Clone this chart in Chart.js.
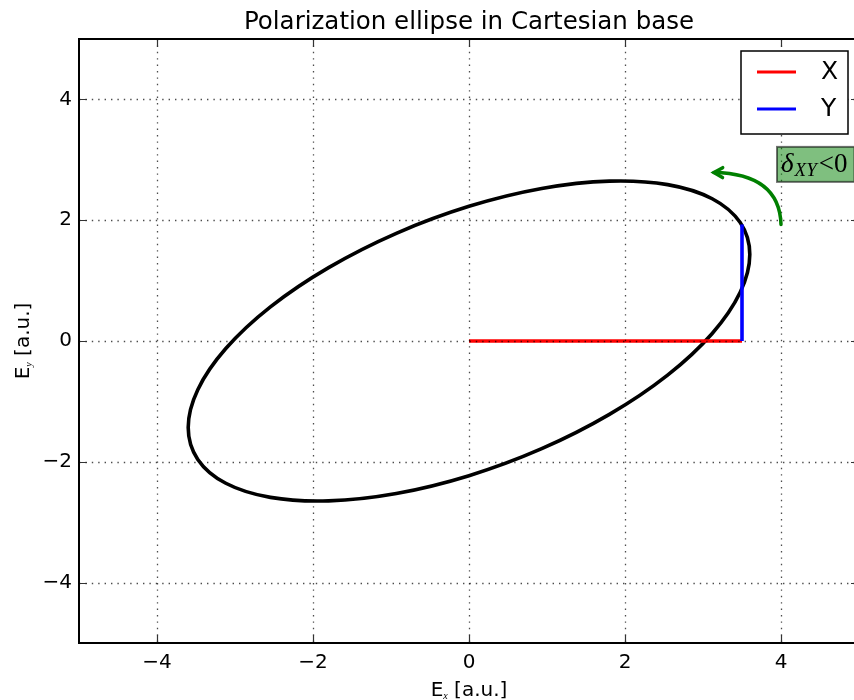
<!DOCTYPE html>
<html>
<head>
<meta charset="utf-8">
<script src="https://cdn.jsdelivr.net/npm/chart.js@4.4.0/dist/chart.umd.min.js"></script>
<style>
  html, body { margin: 0; padding: 0; background: #fff; overflow: hidden; width: 854px; height: 700px; }
  #wrap { width: 880px; height: 700px; }
  canvas { display: block; }
</style>
</head>
<body>
<div id="wrap"><canvas id="chart" width="880" height="700" style="width:880px;height:700px"></canvas></div>
<script>
// Field vector tip (Ex, Ey) over one period, every 15°, with one extra sample at each end
const ellipseEx = [3.477, 3.600, 3.477, 3.118, 2.546, 1.800, 0.932, 0.000, -0.932, -1.800, -2.546, -3.118, -3.477,
                   -3.600, -3.477, -3.118, -2.546, -1.800, -0.932, 0.000, 0.932, 1.800, 2.546, 3.118, 3.477, 3.600, 3.477];
const ellipseEy = [1.960, 1.432, 0.806, 0.125, -0.565, -1.215, -1.783, -2.230, -2.525, -2.647, -2.589, -2.355, -1.960,
                   -1.432, -0.806, -0.125, 0.565, 1.215, 1.783, 2.230, 2.525, 2.647, 2.589, 2.355, 1.960, 1.432, 0.806];

// Components of the field at the drawn instant
const componentXEx = [0, 3.5];
const componentXEy = [0, 0];
const componentYEx = [3.5, 3.5];
const componentYEy = [0, 1.93];

const seriesLabels = ['X', 'Y'];
const seriesColors = ['#ff0000', '#0000ff'];

const xLimits = [-5, 5];
const yLimits = [-5, 5];
const xTickValues = [-4, -2, 0, 2, 4];
const yTickValues = [-4, -2, 0, 2, 4];

// Rotation-sense marker (data coordinates)
const arrowTail = [4.0, 1.93];
const arrowBend = [3.98, 2.77];
const arrowHead = [3.14, 2.79];
const phaseNoteAt = [4.0, 2.8];

const titleText = 'Polarization ellipse in Cartesian base';

const pts = (xs, ys) => xs.map((v, i) => ({ x: v, y: ys[i] }));
const minusFmt = v => (v < 0 ? '\u2212' + (-v) : String(v));
const SANS = '"DejaVu Sans", sans-serif';
const SERIF = '"Liberation Serif", "DejaVu Serif", serif';

// Draws "E" + tiny italic subscript + " [a.u.]" centred on (0,0) of the current transform
function drawSubLabel(ctx, sub) {
  const main = '20px ' + SANS, small = 'italic 10px ' + SERIF;
  ctx.font = main; const wE = ctx.measureText('E').width; const wR = ctx.measureText(' [a.u.]').width;
  ctx.font = small; const wS = ctx.measureText(sub).width;
  let x = -(wE + wS + wR) / 2;
  ctx.textBaseline = 'alphabetic'; ctx.textAlign = 'left'; ctx.fillStyle = '#000';
  ctx.font = main; ctx.fillText('E', x, 0); x += wE;
  ctx.font = small; ctx.fillText(sub, x, 3); x += wS;
  ctx.font = main; ctx.fillText(' [a.u.]', x, 0);
}

const decor = {
  id: 'decor',
  afterDatasetsDraw(chart) {
    const { ctx, chartArea: a, scales: { x, y } } = chart;
    ctx.save();

    // dotted grid over the curves
    ctx.strokeStyle = 'rgba(0,0,0,0.7)';
    ctx.lineWidth = 1.3;
    ctx.setLineDash([1.4, 5]);
    xTickValues.forEach(v => {
      const px = Math.round(x.getPixelForValue(v)) + 0.5;
      ctx.beginPath(); ctx.moveTo(px, a.top); ctx.lineTo(px, a.bottom); ctx.stroke();
    });
    yTickValues.forEach(v => {
      const py = Math.round(y.getPixelForValue(v)) + 0.5;
      ctx.beginPath(); ctx.moveTo(a.left, py); ctx.lineTo(a.right, py); ctx.stroke();
    });
    ctx.setLineDash([]);

    // inward ticks on all four sides
    ctx.strokeStyle = '#333';
    ctx.lineWidth = 1.2;
    const tl = 8;
    xTickValues.forEach(v => {
      const px = Math.round(x.getPixelForValue(v)) + 0.5;
      ctx.beginPath();
      ctx.moveTo(px, a.bottom); ctx.lineTo(px, a.bottom - tl);
      ctx.moveTo(px, a.top); ctx.lineTo(px, a.top + tl);
      ctx.stroke();
    });
    yTickValues.forEach(v => {
      const py = Math.round(y.getPixelForValue(v)) + 0.5;
      ctx.beginPath();
      ctx.moveTo(a.left, py); ctx.lineTo(a.left + tl, py);
      ctx.moveTo(a.right, py); ctx.lineTo(a.right - tl, py);
      ctx.stroke();
    });

    // axes frame
    ctx.strokeStyle = '#000';
    ctx.lineWidth = 2;
    ctx.strokeRect(a.left, a.top, a.right - a.left, a.bottom - a.top);

    // phase note box
    const nx = x.getPixelForValue(phaseNoteAt[0]);
    const ny = y.getPixelForValue(phaseNoteAt[1]);
    const fMain = 'italic 27px ' + SERIF, fSub = 'italic 19px ' + SERIF, fUp = '27px ' + SERIF;
    ctx.font = fMain; const wD = ctx.measureText('\u03b4').width;
    ctx.font = fSub; const wXY = ctx.measureText('XY').width;
    ctx.font = fUp; const wLt = ctx.measureText('<0').width;
    const tw = wD + 1 + wXY + 2 + wLt;
    ctx.fillStyle = 'rgba(0,128,0,0.5)';
    ctx.strokeStyle = 'rgba(0,0,0,0.55)';
    ctx.lineWidth = 2;
    const bx = nx - 4, by = ny - 25, bw = tw + 11, bh = 35;
    ctx.fillRect(bx, by, bw, bh);
    ctx.strokeRect(bx, by, bw, bh);
    ctx.fillStyle = '#000';
    ctx.textBaseline = 'alphabetic'; ctx.textAlign = 'left';
    let tx = nx;
    ctx.font = fMain; ctx.fillText('\u03b4', tx, ny); tx += wD + 1;
    ctx.font = fSub; ctx.fillText('XY', tx, ny + 4.5); tx += wXY + 2;
    ctx.font = fUp; ctx.fillText('<0', tx, ny);

    // curved rotation arrow
    const t0 = [x.getPixelForValue(arrowTail[0]), y.getPixelForValue(arrowTail[1])];
    const c0 = [x.getPixelForValue(arrowBend[0]), y.getPixelForValue(arrowBend[1])];
    const h0 = [x.getPixelForValue(arrowHead[0]), y.getPixelForValue(arrowHead[1])];
    ctx.strokeStyle = '#008000';
    ctx.lineWidth = 3.5;
    ctx.lineCap = 'round';
    ctx.beginPath();
    ctx.moveTo(t0[0], t0[1]);
    ctx.quadraticCurveTo(c0[0], c0[1], h0[0], h0[1]);
    ctx.stroke();
    const ang = Math.atan2(h0[1] - c0[1], h0[0] - c0[0]);
    const hl = 10, spread = 0.52;
    ctx.beginPath();
    ctx.moveTo(h0[0] - hl * Math.cos(ang - spread), h0[1] - hl * Math.sin(ang - spread));
    ctx.lineTo(h0[0], h0[1]);
    ctx.lineTo(h0[0] - hl * Math.cos(ang + spread), h0[1] - hl * Math.sin(ang + spread));
    ctx.stroke();
    ctx.lineCap = 'butt';

    // legend
    const lw = 107, lh = 83;
    const lx = a.right - 11 - lw, ly = a.top + 12;
    ctx.fillStyle = '#fff';
    ctx.fillRect(lx, ly, lw, lh);
    ctx.strokeStyle = '#000';
    ctx.lineWidth = 1.5;
    ctx.strokeRect(lx, ly, lw, lh);
    const rows = [ly + 21, ly + 58];
    seriesLabels.forEach((lab, i) => {
      ctx.strokeStyle = seriesColors[i];
      ctx.lineWidth = 3;
      ctx.beginPath(); ctx.moveTo(lx + 16, rows[i]); ctx.lineTo(lx + 55, rows[i]); ctx.stroke();
      ctx.fillStyle = '#000';
      ctx.font = '25px ' + SANS;
      ctx.textBaseline = 'middle';
      ctx.fillText(lab, lx + 80, rows[i]);
    });

    // title and axis labels
    ctx.textBaseline = 'alphabetic';
    ctx.textAlign = 'center';
    ctx.fillStyle = '#000';
    ctx.font = '24.5px ' + SANS;
    ctx.fillText(titleText, (a.left + a.right) / 2, 28.5);

    ctx.save();
    ctx.translate((a.left + a.right) / 2, 696);
    drawSubLabel(ctx, 'x');
    ctx.restore();

    ctx.save();
    ctx.translate(28.5, (a.top + a.bottom) / 2);
    ctx.rotate(-Math.PI / 2);
    drawSubLabel(ctx, 'y');
    ctx.restore();

    ctx.restore();
  }
};

const lastIdx = ellipseEx.length - 1;

new Chart(document.getElementById('chart'), {
  type: 'scatter',
  data: {
    datasets: [
      {
        label: seriesLabels[1],
        data: pts(componentYEx, componentYEy),
        showLine: true, borderColor: seriesColors[1], borderWidth: 3.6,
        pointRadius: 0, order: 0
      },
      {
        label: seriesLabels[0],
        data: pts(componentXEx, componentXEy),
        showLine: true, borderColor: seriesColors[0], borderWidth: 3.6,
        pointRadius: 0, order: 1
      },
      {
        label: 'ellipse',
        data: pts(ellipseEx, ellipseEy),
        showLine: true, borderColor: '#000', borderWidth: 3.6,
        pointRadius: 0, tension: 0.34, order: 2,
        segment: {
          borderColor: c => (c.p0DataIndex === 0 || c.p1DataIndex === lastIdx) ? 'rgba(0,0,0,0)' : '#000'
        }
      }
    ]
  },
  options: {
    responsive: false,
    animation: false,
    devicePixelRatio: 1,
    layout: { padding: { top: 39, right: 21, bottom: 0, left: 0 } },
    plugins: { legend: { display: false }, title: { display: false }, tooltip: { enabled: false } },
    scales: {
      x: {
        type: 'linear', min: xLimits[0], max: xLimits[1],
        grid: { display: false, drawTicks: false },
        border: { display: false },
        afterBuildTicks: s => { s.ticks = xTickValues.map(v => ({ value: v })); },
        afterFit: s => { s.height = 57; },
        ticks: {
          autoSkip: false, maxRotation: 0, padding: 8, color: '#000',
          font: { family: SANS, size: 20 },
          callback: minusFmt
        }
      },
      y: {
        type: 'linear', min: yLimits[0], max: yLimits[1],
        grid: { display: false, drawTicks: false },
        border: { display: false },
        afterBuildTicks: s => { s.ticks = yTickValues.map(v => ({ value: v })); },
        afterFit: s => { s.width = 79; },
        ticks: {
          autoSkip: false, padding: 7, color: '#000',
          font: { family: SANS, size: 20 },
          callback: minusFmt
        }
      }
    }
  },
  plugins: [decor]
});
</script>
</body>
</html>
